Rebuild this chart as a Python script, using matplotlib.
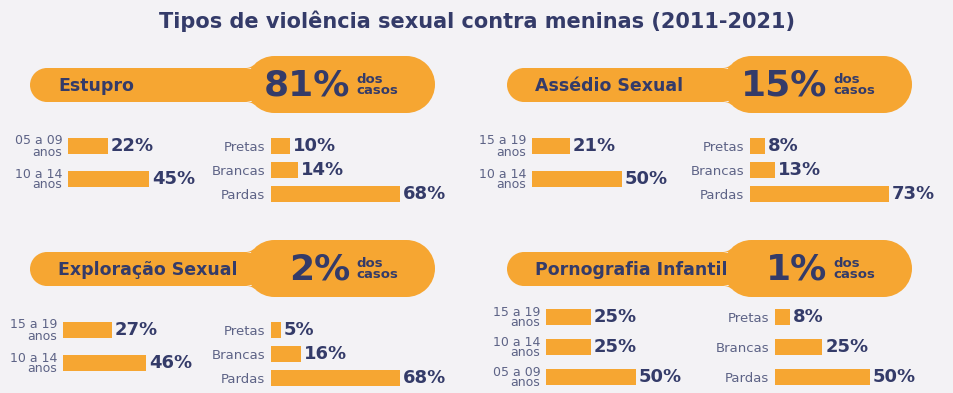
import numpy as np
import matplotlib.pyplot as plt
from matplotlib.patches import Rectangle, Circle

plt.rcParams['font.family'] = ['DejaVu Sans']

W, H = 954, 393
BG = '#f3f2f5'
ORANGE = '#f6a632'
NAVY = '#343b69'
GRAY = '#5d6386'

title = 'Tipos de violência sexual contra meninas (2011-2021)'

# one entry per panel
tipos = ['Estupro', 'Assédio Sexual', 'Exploração Sexual', 'Pornografia Infantil']
total_pct = [81, 15, 2, 1]

idade_labels = [
    ['05 a 09\nanos', '10 a 14\nanos'],
    ['15 a 19\nanos', '10 a 14\nanos'],
    ['15 a 19\nanos', '10 a 14\nanos'],
    ['15 a 19\nanos', '10 a 14\nanos', '05 a 09\nanos'],
]
idade_vals = [
    [22, 45],
    [21, 50],
    [27, 46],
    [25, 25, 50],
]

raca_labels = ['Pretas', 'Brancas', 'Pardas']
raca_vals = [
    [10, 14, 68],
    [8, 13, 73],
    [5, 16, 68],
    [8, 25, 50],
]

fig = plt.figure(figsize=(W / 100, H / 100), dpi=100)
fig.patch.set_facecolor(BG)

bg = fig.add_axes([0, 0, 1, 1])
bg.set_xlim(0, W)
bg.set_ylim(H, 0)
bg.axis('off')

bg.text(W / 2, 21, title, ha='center', va='center', fontsize=15,
        fontweight='bold', color=NAVY)

# panel origins (px)
origins = [(0, 0), (477, 0), (0, 184), (477, 184)]


def pill(x0, x1, ytop, h):
    r = h / 2
    bg.add_patch(Rectangle((x0 + r, ytop), x1 - x0 - h, h, fc=ORANGE, ec='none'))
    bg.add_patch(Circle((x0 + r, ytop + r), r, fc=ORANGE, ec='none'))
    bg.add_patch(Circle((x1 - r, ytop + r), r, fc=ORANGE, ec='none'))


def fillets(cx, cy, R, y_edge, rf, side):
    # smooth join between thin pill edge (y_edge) and big circle (cx, cy, R)
    fy = y_edge + side * rf
    dy = cy - fy
    fx = cx - np.sqrt((R + rf) ** 2 - dy ** 2)
    tx = fx + (cx - fx) * rf / (R + rf)
    ty = fy + (cy - fy) * rf / (R + rf)
    y0, y1 = sorted([ty, y_edge])
    bg.add_patch(Rectangle((fx, y0), tx - fx, y1 - y0, fc=ORANGE, ec='none', zorder=1))
    bg.add_patch(Circle((fx, fy), rf, fc=BG, ec='none', zorder=1.1))


def px_axes(x0, y_top, w, h):
    return fig.add_axes([x0 / W, 1 - (y_top + h) / H, w / W, h / H])


def bar_group(x0, first_center, spacing, labels, vals, scale, fs_lab, lsp=1.0):
    n = len(vals)
    ax = px_axes(x0, first_center - spacing / 2, 220, n * spacing)
    ax.set_facecolor('none')
    ax.barh(np.arange(n), vals, height=16.5 / spacing, color=ORANGE)
    ax.set_xlim(0, 220 / scale)
    ax.set_ylim(n - 0.5, -0.5)
    ax.set_yticks(np.arange(n))
    ax.set_yticklabels(labels, fontsize=fs_lab, color=GRAY, linespacing=lsp)
    ax.tick_params(axis='y', length=0, pad=4)
    ax.set_xticks([])
    for s in ax.spines.values():
        s.set_visible(False)
    for i, v in enumerate(vals):
        ax.text(v + 3 / scale, i, f'{v}%', va='center', ha='left',
                fontsize=13, fontweight='bold', color=NAVY)
    return ax


for k, (ox, oy) in enumerate(origins):
    pill(30 + ox, 262 + ox, 68 + oy, 34)
    pill(246 + ox, 435 + ox, 56 + oy, 57)
    fillets(246 + ox + 28.5, 56 + oy + 28.5, 28.5, 68 + oy, 12, -1)
    fillets(246 + ox + 28.5, 56 + oy + 28.5, 28.5, 102 + oy, 12, 1)
    bg.text(58 + ox, 86 + oy, tipos[k], ha='left', va='center', fontsize=12.5,
            fontweight='bold', color=NAVY, zorder=3)
    bg.text(350 + ox, 85 + oy, f'{total_pct[k]}%', ha='right', va='center',
            fontsize=26, fontweight='bold', color=NAVY, zorder=3)
    bg.text(356 + ox, 85 + oy, 'dos\ncasos', ha='left', va='center',
            fontsize=9.5, fontweight='bold', color=NAVY, linespacing=0.85, zorder=3)

    if k < 3:
        age_x = [68, 55, 63][k]
        bar_group(age_x + ox, 146 + oy, 33, idade_labels[k], idade_vals[k],
                  1.8, 9, 0.8)
        race_x = [271, 273, 271][k]
        bar_group(race_x + ox, 146 + oy, 24, raca_labels, raca_vals[k], 1.9, 9.5)
    else:
        bar_group(69 + ox, 133 + oy, 30, idade_labels[k], idade_vals[k],
                  1.8, 9, 0.8)
        bar_group(298 + ox, 133 + oy, 30, raca_labels, raca_vals[k], 1.9, 9.5)

fig.savefig('out.png', dpi=100, facecolor=BG)
